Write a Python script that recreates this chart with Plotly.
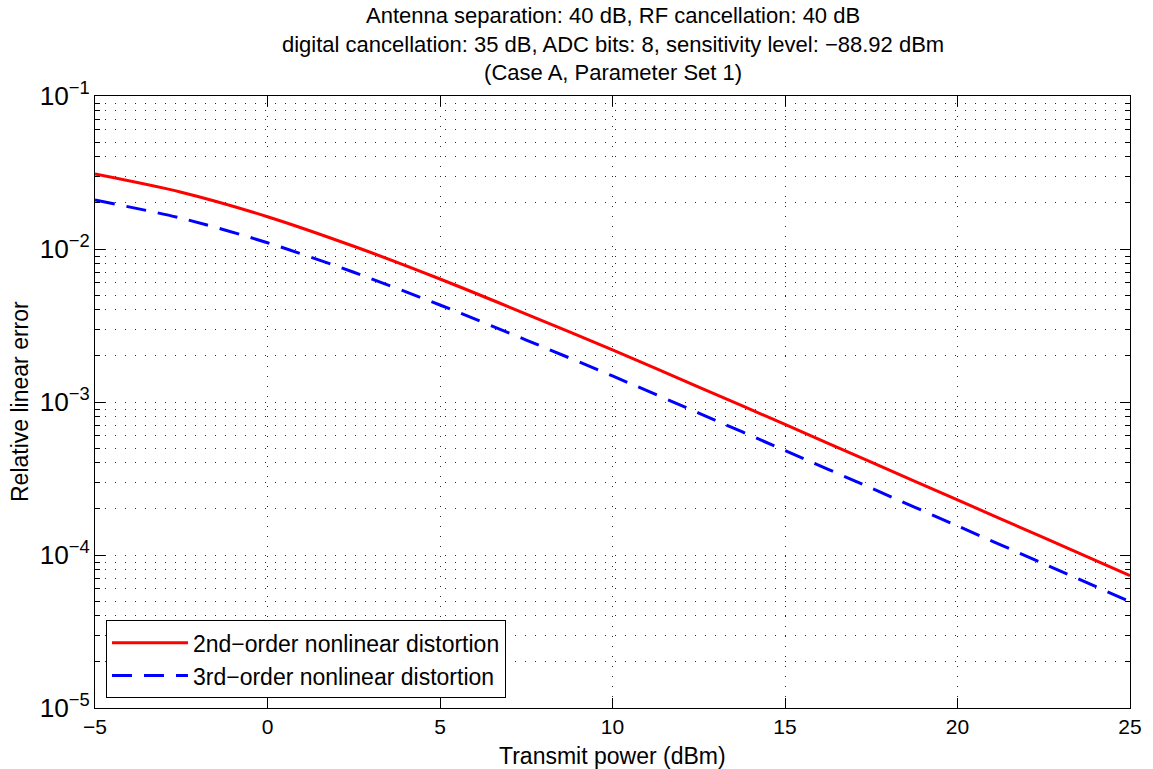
import plotly.graph_objects as go

# Data
transmit_power_dbm = [-5, -2.5, 0, 2.5, 5, 7.5, 10, 12.5, 15, 17.5, 20, 22.5, 25]
err_2nd_order = [0.03090, 0.02350, 0.01626, 0.01042, 0.006368, 0.003758, 0.002188,
                 0.001253, 0.0007129, 0.0004046, 0.0002291, 0.0001297, 0.00007328]
err_3rd_order = [0.02089, 0.01589, 0.01099, 0.007047, 0.004305, 0.002541, 0.001479,
                 0.0008472, 0.0004819, 0.0002735, 0.0001549, 0.00008770, 0.00004955]
series_names = ["2nd\u2212order nonlinear distortion", "3rd\u2212order nonlinear distortion"]
title_lines = [
    "Antenna separation: 40 dB, RF cancellation: 40 dB",
    "digital cancellation: 35 dB, ADC bits: 8, sensitivity level: \u221288.92 dBm",
    "(Case A, Parameter Set 1)",
]
x_title = "Transmit power (dBm)"
y_title = "Relative linear error"

FONT = "Liberation Sans, Arial, Helvetica, sans-serif"
GRID_DASH = "1px,9px"
GRID_COLOR = "rgba(0,0,0,0.85)"
TXT = 23

fig = go.Figure()
fig.add_trace(go.Scatter(
    x=transmit_power_dbm, y=err_2nd_order, mode="lines", name=series_names[0],
    line=dict(color="#ff0000", width=3, shape="spline", smoothing=0.8),
))
fig.add_trace(go.Scatter(
    x=transmit_power_dbm, y=err_3rd_order, mode="lines", name=series_names[1],
    line=dict(color="#0000ff", width=3, dash="20px,12px", shape="spline", smoothing=0.8),
))

L, R, T, B = 95, 23, 96, 61
W, H = 1153, 769
plot_h = H - T - B
plot_w = W - L - R

annotations = [
    dict(
        text="<br>".join(title_lines), xref="paper", yref="paper",
        x=0.5, y=1 + (T - 44) / plot_h,
        xanchor="center", yanchor="middle", showarrow=False,
        font=dict(family=FONT, size=22, color="black"),
    ),
    dict(
        text=x_title, xref="paper", yref="paper", x=0.5, y=-(756 - (H - B)) / plot_h,
        xanchor="center", yanchor="middle", showarrow=False,
        font=dict(family=FONT, size=TXT, color="black"),
    ),
    dict(
        text=y_title, xref="paper", yref="paper", x=-(L - 20) / plot_w, y=0.5,
        xanchor="center", yanchor="middle", showarrow=False, textangle=-90,
        font=dict(family=FONT, size=TXT, color="black"),
    ),
]

fig.update_layout(
    width=W, height=H,
    margin=dict(l=L, r=R, t=T, b=B, autoexpand=False),
    paper_bgcolor="white", plot_bgcolor="white",
    font=dict(family=FONT, size=20, color="black"),
    showlegend=True,
    legend=dict(
        x=0.0106, y=0.016, xanchor="left", yanchor="bottom",
        bordercolor="black", borderwidth=1, bgcolor="white",
        font=dict(family=FONT, size=23, color="black"),
        itemwidth=76, tracegroupgap=0,
    ),
    annotations=annotations,
)

fig.update_xaxes(
    range=[-5, 25], dtick=5, tick0=0, automargin=False,
    showline=True, linecolor="black", linewidth=1, mirror="ticks",
    ticks="inside", ticklen=10, tickcolor="black", tickwidth=1,
    showgrid=True, gridcolor=GRID_COLOR, griddash=GRID_DASH, gridwidth=1,
    zeroline=False,
    tickfont=dict(family=FONT, size=21, color="black"),
)
fig.update_yaxes(
    type="log", range=[-5, -1], dtick=1, exponentformat="power", automargin=False,
    showline=True, linecolor="black", linewidth=1, mirror="ticks",
    ticks="inside", ticklen=10, tickcolor="black", tickwidth=1,
    showgrid=True, gridcolor=GRID_COLOR, griddash=GRID_DASH, gridwidth=1,
    minor=dict(dtick="D1", ticks="inside", ticklen=5, tickcolor="black",
               showgrid=True, gridcolor=GRID_COLOR, griddash=GRID_DASH, gridwidth=1),
    zeroline=False,
    tickfont=dict(family=FONT, size=21, color="black"),
)

fig.write_html(
    "out.html",
    config={"displayModeBar": False},
    post_script="document.body.style.margin='0';document.body.style.overflow='hidden';",
)
